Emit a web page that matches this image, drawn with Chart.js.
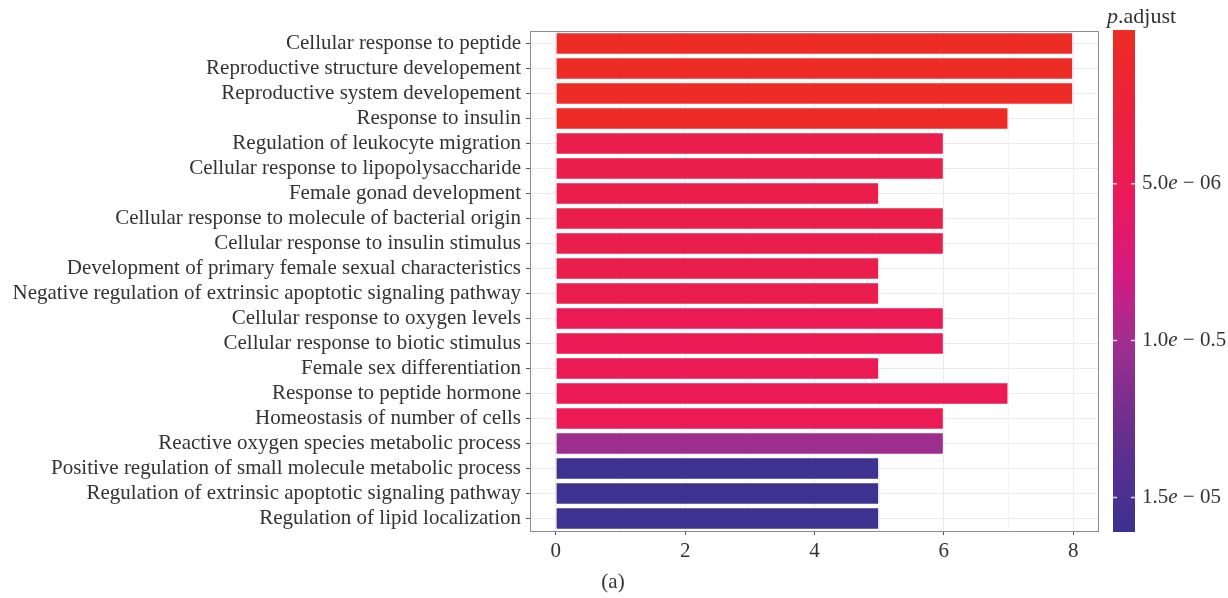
<!DOCTYPE html>
<html>
<head>
<meta charset="utf-8">
<script src="https://cdn.jsdelivr.net/npm/chart.js@4.4.1/dist/chart.umd.min.js"></script>
<style>
  html, body { margin: 0; padding: 0; background: #fff; }
  #wrap { width: 1228px; height: 598px; }
</style>
</head>
<body>
<div id="wrap"><canvas id="grafico"></canvas></div>
<script>
const categories = [
  "Cellular response to peptide",
  "Reproductive structure developement",
  "Reproductive system developement",
  "Response to insulin",
  "Regulation of leukocyte migration",
  "Cellular response to lipopolysaccharide",
  "Female gonad development",
  "Cellular response to molecule of bacterial origin",
  "Cellular response to insulin stimulus",
  "Development of primary female sexual characteristics",
  "Negative regulation of extrinsic apoptotic signaling pathway",
  "Cellular response to oxygen levels",
  "Cellular response to biotic stimulus",
  "Female sex differentiation",
  "Response to peptide hormone",
  "Homeostasis of number of cells",
  "Reactive oxygen species metabolic process",
  "Positive regulation of small molecule metabolic process",
  "Regulation of extrinsic apoptotic signaling pathway",
  "Regulation of lipid localization"
];
const counts = [8, 8, 8, 7, 6, 6, 5, 6, 6, 5, 5, 6, 6, 5, 7, 6, 6, 5, 5, 5];
const pAdjust = [4.0e-7, 4.0e-7, 4.0e-7, 4.5e-7, 4.0e-6, 4.0e-6, 4.0e-6, 4.0e-6, 4.1e-6, 4.1e-6,
                 4.2e-6, 4.9e-6, 4.9e-6, 4.9e-6, 4.9e-6, 4.9e-6, 1.02e-5, 1.585e-5, 1.585e-5, 1.585e-5];
const xTicks = [0, 1, 2, 3, 4, 5, 6, 7, 8];
const barTicks = [5e-6, 1e-5, 1.5e-5];
const barTickLabels = [["5.0", "e", " \u2212 06"], ["1.0", "e", " \u2212 0.5"], ["1.5", "e", " \u2212 05"]];
const pMin = 1e-7, pMax = 1.61e-5;

// gradient red -> magenta -> blue (like the colorbar)
const stops = [
  [0, [238, 45, 36]], [0.1, [236, 37, 50]], [0.25, [234, 30, 76]], [0.32, [236, 24, 88]],
  [0.48, [214, 26, 128]], [0.62, [160, 46, 142]], [0.8, [104, 47, 142]], [1, [58, 49, 144]]
];
function colorFor(p) {
  let t = Math.min(1, Math.max(0, (p - pMin) / (pMax - pMin)));
  for (let i = 1; i < stops.length; i++) {
    if (t <= stops[i][0]) {
      let a = stops[i - 1], b = stops[i];
      let f = (t - a[0]) / (b[0] - a[0]);
      let c = a[1].map((v, k) => Math.round(v + (b[1][k] - v) * f));
      return 'rgb(' + c.join(',') + ')';
    }
  }
  return 'rgb(58,49,144)';
}

const FONT = "'Liberation Serif', 'Times New Roman', serif";
const FS = 21;

const extras = {
  id: 'extras',
  afterDraw(chart) {
    const ctx = chart.ctx;
    const a = chart.chartArea;
    ctx.save();
    // panel border
    ctx.strokeStyle = '#8c8c8c';
    ctx.lineWidth = 1;
    ctx.strokeRect(a.left + 0.5, a.top + 0.5, a.right - a.left - 1, a.bottom - a.top);

    // colorbar
    const bx = 1113, bw = 22, by = 30, bh = 502;
    const g = ctx.createLinearGradient(0, by, 0, by + bh);
    stops.forEach(s => g.addColorStop(s[0], 'rgb(' + s[1].join(',') + ')'));
    ctx.fillStyle = g;
    ctx.fillRect(bx, by, bw, bh);
    ctx.strokeStyle = 'rgba(255,255,255,0.8)';
    ctx.lineWidth = 1.5;
    ctx.textBaseline = 'middle';
    ctx.fillStyle = '#333';
    barTicks.forEach((v, i) => {
      const y = by + (v - pMin) / (pMax - pMin) * bh;
      ctx.beginPath();
      ctx.moveTo(bx, y); ctx.lineTo(bx + 4, y);
      ctx.moveTo(bx + bw - 4, y); ctx.lineTo(bx + bw, y);
      ctx.stroke();
      let x = bx + bw + 7;
      barTickLabels[i].forEach((part, k) => {
        ctx.font = (k === 1 ? 'italic ' : '') + FS + 'px ' + FONT;
        ctx.fillText(part, x, y);
        x += ctx.measureText(part).width;
      });
    });

    // legend title
    ctx.textBaseline = 'alphabetic';
    ctx.font = 'italic 22px ' + FONT;
    ctx.fillText('p', 1107, 23);
    let w = ctx.measureText('p').width;
    ctx.font = '22px ' + FONT;
    ctx.fillText('.adjust', 1107 + w, 23);

    // panel tag
    ctx.font = FS + 'px ' + FONT;
    ctx.textAlign = 'center';
    ctx.textBaseline = 'middle';
    ctx.fillText('(a)', 613, 582);
    ctx.restore();
  }
};

new Chart(document.getElementById('grafico').getContext('2d'), {
  type: 'bar',
  data: {
    labels: categories,
    datasets: [{
      data: counts,
      backgroundColor: pAdjust.map(colorFor),
      borderColor: 'rgba(255,255,255,0.45)',
      borderWidth: 1,
      barPercentage: 0.9,
      categoryPercentage: 1
    }]
  },
  options: {
    indexAxis: 'y',
    responsive: true,
    maintainAspectRatio: false,
    animation: false,
    layout: { padding: { top: 31, right: 129, bottom: 0, left: 0 } },
    plugins: { legend: { display: false }, tooltip: { enabled: false } },
    scales: {
      x: {
        type: 'linear',
        min: -0.4,
        max: 8.4,
        afterBuildTicks: s => { s.ticks = xTicks.map(v => ({ value: v })); },
        afterFit: s => { s.height = 67; },
        border: { display: false },
        grid: {
          color: c => (c.tick && c.tick.value % 2) ? '#f3f3f3' : '#ebebeb',
          tickColor: c => (c.tick && c.tick.value % 2) ? 'rgba(0,0,0,0)' : '#555',
          tickLength: 4
        },
        ticks: {
          callback: v => (v % 2 === 0 ? v : ''),
          color: '#333',
          padding: 4,
          maxRotation: 0,
          font: { family: FONT, size: FS }
        }
      },
      y: {
        type: 'category',
        afterFit: s => { s.width = 530; },
        border: { display: false },
        grid: { offset: false, color: '#ebebeb', tickColor: '#555', tickLength: 4 },
        ticks: {
          color: '#333',
          padding: 5,
          autoSkip: false,
          font: { family: FONT, size: FS }
        }
      }
    }
  },
  plugins: [extras]
});
</script>
</body>
</html>
